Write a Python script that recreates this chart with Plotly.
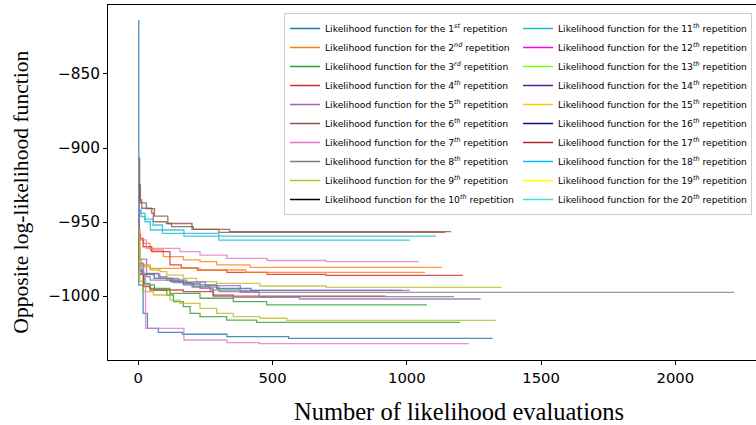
import plotly.graph_objects as go

# Step points (evaluation count, objective value) for each repetition
evals_01 = [0, 2, 18, 34, 75, 165, 330, 560, 1320]
loglik_01 = [-814, -992.6, -1011.7, -1021.8, -1024.5, -1025.8, -1027.4, -1028.6, -1028.6]
evals_02 = [0, 6, 19, 44, 93, 168, 230, 292, 416, 1131]
loglik_02 = [-955, -962, -964.4, -968.9, -973.4, -975.5, -976.8, -979.0, -980.6, -980.6]
evals_03 = [0, 5, 22, 60, 106, 131, 168, 193, 230, 329, 441, 1198]
loglik_03 = [-968, -985, -992.5, -996, -999.3, -1003.8, -1007.2, -1011.7, -1013.9, -1016.2, -1017.8, -1017.8]
evals_04 = [0, 8, 18, 50, 118, 160, 220, 330, 480, 700, 1209]
loglik_04 = [-958, -961, -966.7, -970, -979, -981, -982.5, -984, -985.3, -986, -986]
evals_05 = [0, 4, 31, 44, 168, 230, 279, 354, 600, 1275]
loglik_05 = [-924, -975, -986.9, -989.2, -991.4, -994.8, -999.3, -1000.9, -1002, -1002]
evals_06 = [0, 5, 13, 50, 56, 105, 124, 205, 340, 1165]
loglik_06 = [-907, -935, -940.7, -944, -949.8, -951, -953.1, -955, -956.5, -956.5]
evals_07 = [0, 3, 30, 155, 230, 330, 480, 700, 1045]
loglik_07 = [-955, -962, -967.8, -970, -972.3, -974.5, -976, -976.8, -976.8]
evals_08 = [0, 4, 13, 75, 106, 180, 205, 267, 379, 2219]
loglik_08 = [-960, -980, -984.7, -986.9, -989.2, -991.4, -993.6, -995.9, -997.5, -997.5]
evals_09 = [0, 5, 13, 44, 81, 106, 168, 217, 292, 453, 700, 1353]
loglik_09 = [-960, -975, -980.1, -982.4, -983.5, -985.8, -988, -990.3, -991.4, -993.2, -994.1, -994.1]
evals_10 = [0, 10, 25, 45, 90, 170, 300, 1012]
loglik_10 = [-942, -946.4, -949.8, -955.4, -957.6, -959.5, -962.2, -962.2]
evals_11 = [0, 3, 15, 60, 120, 168, 292, 420, 981]
loglik_11 = [-975, -983, -985, -988, -990.3, -992.5, -994.8, -996.2, -996.2]
evals_12 = [0, 5, 44, 230, 400, 1068]
loglik_12 = [-960, -979, -981.3, -982.4, -984, -984]
evals_13 = [0, 4, 19, 44, 118, 230, 354, 478, 1075]
loglik_13 = [-965, -985, -991.4, -994.8, -998.2, -1001.5, -1003.8, -1005.9, -1005.9]
evals_14 = [0, 4, 19, 44, 168, 279, 922]
loglik_14 = [-962, -985, -993.6, -995.9, -997, -1000, -1000]
evals_15 = [0, 3, 20, 80, 150, 250, 380, 1012]
loglik_15 = [-945, -978, -985, -988, -990.5, -993, -996.2, -996.2]
evals_16 = [0, 8, 30, 60, 110, 200, 300, 1142]
loglik_16 = [-925, -937, -941, -946, -951, -955, -957, -957]
evals_17 = [0, 3, 27, 170, 330, 450, 1231]
loglik_17 = [-975, -985, -1021.8, -1029.7, -1031.5, -1032.2, -1032.2]
evals_18 = [0, 4, 15, 60, 130, 200, 300, 450, 1176]
loglik_18 = [-950, -982, -985.5, -988, -991, -994, -997, -1000.4, -1000.4]
evals_19 = [0, 5, 16, 56, 118, 155, 230, 292, 354, 453, 553, 1331]
loglik_19 = [-955, -990, -997, -999.3, -1002.7, -1004.9, -1008.3, -1011.7, -1013.9, -1015, -1016.4, -1016.4]
evals_20 = [0, 8, 25, 55, 90, 170, 300, 1109]
loglik_20 = [-942, -944, -948, -952, -955.4, -957.6, -959.5, -959.5]

runs = [
    (evals_01, loglik_01), (evals_02, loglik_02), (evals_03, loglik_03), (evals_04, loglik_04),
    (evals_05, loglik_05), (evals_06, loglik_06), (evals_07, loglik_07), (evals_08, loglik_08),
    (evals_09, loglik_09), (evals_10, loglik_10), (evals_11, loglik_11), (evals_12, loglik_12),
    (evals_13, loglik_13), (evals_14, loglik_14), (evals_15, loglik_15), (evals_16, loglik_16),
    (evals_17, loglik_17), (evals_18, loglik_18), (evals_19, loglik_19), (evals_20, loglik_20),
]

# default colour cycle used for the curves
line_colors = ["#1f77b4", "#ff7f0e", "#2ca02c", "#d62728", "#9467bd",
               "#8c564b", "#e377c2", "#7f7f7f", "#bcbd22", "#17becf"]

# colours of the legend keys
legend_colors = ["#1f77b4", "#ff7f0e", "#2ca02c", "#d62728", "#9467bd",
                 "#8c564b", "#e377c2", "#7f7f7f", "#bcbd22", "#000000",
                 "#17becf", "#ff00ff", "#7cfc00", "#552288", "#ffc400",
                 "#0a0a8b", "#a52a2a", "#00bfff", "#ffff00", "#40e0d0"]

suffixes = ["st", "nd", "rd"] + ["th"] * 17

x_ticks = [0, 500, 1000, 1500, 2000]
y_ticks = [-1000, -950, -900, -850]

fig = go.Figure()

for i, (xs, ys) in enumerate(runs):
    fig.add_trace(go.Scatter(
        x=xs, y=ys, mode="lines",
        line=dict(color=line_colors[i % 10], width=1.3, shape="hv"),
        opacity=0.8, showlegend=False, hoverinfo="skip",
    ))

for k in range(20):
    n = k + 1
    # two-column legend: repetitions 1-10 on the left, 11-20 on the right
    rank = 2 * k + 1 if n <= 10 else 2 * (k - 10) + 2
    fig.add_trace(go.Scatter(
        x=[None], y=[None], mode="lines",
        line=dict(color=legend_colors[k], width=1.5),
        name=f"Likelihood function for the {n}<sup><i>{suffixes[k]}</i></sup> repetition",
        legendrank=rank,
    ))

L, T, B = 108, 5, 65
W, H = 756, 425
pw, ph = W - L, H - T - B

fig.update_layout(
    width=W, height=H,
    margin=dict(l=L, r=0, t=T, b=B, pad=0),
    paper_bgcolor="white", plot_bgcolor="white",
    font=dict(family="DejaVu Sans", color="black"),
    showlegend=True,
    legend=dict(
        orientation="h",
        entrywidth=188, entrywidthmode="pixels",
        x=(284 - L) / pw, xanchor="left",
        y=1 - (13 - T) / ph, yanchor="top",
        bgcolor="rgba(255,255,255,0.8)",
        bordercolor="#cccccc", borderwidth=1,
        font=dict(family="DejaVu Sans", size=9.2, color="black"),
    ),
    xaxis=dict(
        range=[-112.8, 2300.6],
        tickvals=x_ticks, ticktext=[str(v) for v in x_ticks],
        ticks="outside", ticklen=4, tickwidth=1, tickcolor="black",
        tickfont=dict(family="DejaVu Sans", size=14.8, color="black"),
        showline=True, linecolor="black", linewidth=1, mirror=True,
        showgrid=False, zeroline=False,
    ),
    yaxis=dict(
        range=[-1043.2, -803.4],
        tickvals=y_ticks,
        ticks="outside", ticklen=4, tickwidth=1, tickcolor="black",
        tickfont=dict(family="DejaVu Sans", size=15.3, color="black"),
        showline=True, linecolor="black", linewidth=1,
        showgrid=False, zeroline=False,
    ),
    annotations=[
        dict(text="Number of likelihood evaluations",
             xref="paper", yref="paper",
             x=(459 - L) / pw, y=1 - (411 - T) / ph,
             xanchor="center", yanchor="middle", showarrow=False,
             font=dict(family="Liberation Serif", size=24.5, color="black")),
        dict(text="Opposite log-likelihood function",
             xref="paper", yref="paper",
             x=(21 - L) / pw, y=1 - (191.7 - T) / ph,
             xanchor="center", yanchor="middle", showarrow=False, textangle=-90,
             font=dict(family="Liberation Serif", size=21.6, color="black")),
    ],
)

fig.write_html("out.html")
